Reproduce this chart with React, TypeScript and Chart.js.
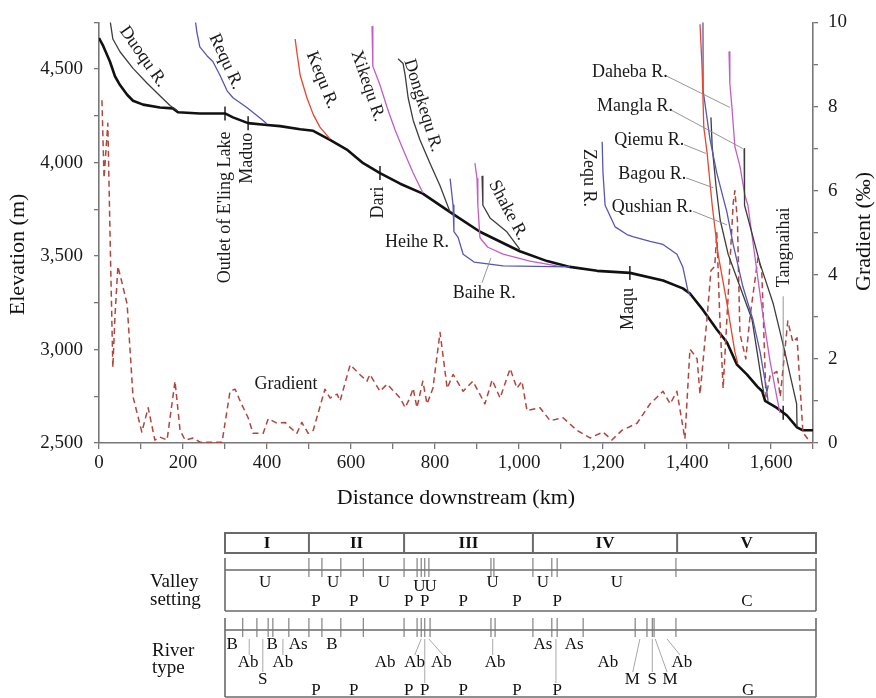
import React, { useEffect, useRef } from 'react';
import { Chart, registerables } from 'chart.js';

Chart.register(...registerables);

const SERIF = "'Liberation Serif', 'Times New Roman', serif";

// ---------------- Data (distance km, elevation m) ----------------
const mainProfile: [number, number][] = [
  [0, 4666], [10, 4624], [26, 4541], [38, 4462], [50, 4415], [67, 4363], [81, 4331], [105, 4310],
  [145, 4295], [176, 4290], [188, 4269], [240, 4263], [300, 4263], [319, 4242], [355, 4211],
  [400, 4201], [431, 4195], [479, 4178], [510, 4170], [550, 4122], [590, 4070], [629, 3997],
  [669, 3944], [717, 3887], [771, 3834], [836, 3735], [907, 3630], [1002, 3526], [1067, 3473],
  [1121, 3442], [1186, 3421], [1264, 3410], [1343, 3369], [1390, 3327], [1407, 3300], [1438, 3212],
  [1471, 3107], [1495, 3039], [1519, 2919], [1543, 2866], [1567, 2803], [1579, 2777], [1586, 2725],
  [1614, 2688], [1638, 2647], [1662, 2584], [1676, 2568], [1700, 2568],
];

// gradient (km, ‰)
const gradientProfile: [number, number][] = [
  [7, 8.15], [12, 6.3], [21, 7.6], [27, 4.6], [33, 1.8], [38, 3.0], [45, 4.2], [55, 3.8], [67, 3.3],
  [81, 1.1], [102, 0.26], [117, 0.84], [133, 0.07], [145, 0.14], [162, 0.07], [181, 1.47], [193, 0.3],
  [205, 0.07], [224, 0.12], [240, 0.02], [293, 0.02], [312, 1.23], [324, 1.28], [336, 1.0], [355, 0.6],
  [367, 0.23], [391, 0.23], [403, 0.58], [424, 0.47], [443, 0.49], [455, 0.37], [471, 0.23], [483, 0.49],
  [498, 0.23], [510, 0.3], [538, 1.28], [550, 1.07], [567, 1.16], [574, 1.0], [598, 1.86], [621, 1.63],
  [638, 1.47], [645, 1.63], [669, 1.23], [686, 1.4], [717, 1.07], [729, 0.84], [740, 1.07], [748, 1.3],
  [757, 0.84], [771, 1.47], [781, 0.93], [795, 1.3], [812, 2.63], [829, 1.3], [843, 1.63], [867, 1.23],
  [890, 1.47], [919, 0.93], [936, 1.5], [955, 1.07], [979, 1.77], [995, 1.3], [1007, 1.47], [1019, 0.77],
  [1050, 0.84], [1074, 0.53], [1105, 0.6], [1138, 0.3], [1169, 0.12], [1200, 0.26], [1221, 0.07],
  [1245, 0.3], [1281, 0.47], [1312, 0.93], [1343, 1.23], [1360, 0.93], [1376, 1.23], [1395, 0.1],
  [1407, 2.23], [1417, 2.1], [1424, 2.0], [1431, 1.16], [1448, 3.0], [1457, 4.1], [1466, 4.2],
  [1471, 5.0], [1478, 3.0], [1486, 1.3], [1498, 3.5], [1510, 5.7], [1514, 6.0], [1520, 5.3],
  [1526, 2.6], [1540, 2.0], [1550, 3.0], [1569, 4.4], [1578, 4.1], [1588, 1.1], [1598, 1.6],
  [1614, 1.7], [1622, 1.1], [1640, 2.9], [1652, 2.4], [1662, 2.5], [1676, 0.25], [1695, 0],
];

const duoqu: [number, number][] = [[26, 4766], [33, 4661], [50, 4593], [81, 4504], [114, 4426], [145, 4358], [169, 4305], [186, 4279]];
const requ: [number, number][] = [[229, 4766], [233, 4698], [240, 4619], [257, 4572], [271, 4541], [288, 4467], [305, 4384], [319, 4347], [352, 4295], [390, 4227], [400, 4206]];
const kequ: [number, number][] = [[467, 4661], [471, 4593], [479, 4467], [495, 4347], [510, 4258], [526, 4190], [550, 4127]];
const xikequ: [number, number][] = [[650, 4729], [652, 4515], [669, 4415], [686, 4295], [705, 4174], [724, 4070], [748, 3944], [771, 3839]];
const dongkequ: [number, number][] = [[712, 4556], [724, 4530], [729, 4467], [736, 4347], [748, 4227], [764, 4122], [788, 3997], [812, 3876], [836, 3735]];
const heihe: [number, number][] = [[836, 3914], [843, 3772], [845, 3631], [855, 3600], [867, 3510], [893, 3468], [962, 3447], [1121, 3442]];
const baihe: [number, number][] = [[895, 3997], [900, 3914], [902, 3772], [907, 3599], [914, 3578], [926, 3547], [962, 3510], [1026, 3473], [1090, 3447], [1105, 3444]];
const shake: [number, number][] = [[912, 3928], [914, 3772], [931, 3704], [971, 3630], [1002, 3536]];
const zequ: [number, number][] = [[1198, 4112], [1200, 3944], [1205, 3772], [1229, 3656], [1257, 3615], [1271, 3604], [1312, 3578], [1343, 3562], [1376, 3510], [1390, 3442], [1402, 3316], [1407, 3290]];
const qiemu: [number, number][] = [[1431, 4740], [1436, 4504], [1440, 4190], [1448, 4049], [1460, 3772], [1474, 3510], [1495, 3248], [1514, 2987], [1521, 2924]];
const qushian: [number, number][] = [[1438, 4766], [1438.5, 4384], [1455, 4122], [1471, 3944], [1495, 3735], [1510, 3562], [1533, 3337], [1557, 3159], [1574, 2987], [1590, 2777], [1593, 2725]];
const bagou: [number, number][] = [[1457, 4242], [1460, 4085], [1469, 3876], [1479, 3693], [1498, 3510], [1526, 3337], [1555, 3159], [1579, 2814], [1583, 2767]];
const mangla: [number, number][] = [[1536, 4075], [1537, 3772], [1574, 3458], [1605, 3248], [1633, 2987], [1661, 2709], [1662, 2584]];
const daheba: [number, number][] = [[1500, 4593], [1502, 4426], [1507, 4295], [1514, 4085], [1526, 3981], [1538, 3824], [1545, 3772], [1579, 3212], [1598, 2934], [1617, 2709], [1621, 2662]];

const stationNames = ["Outlet of E'ling Lake", 'Maduo', 'Dari', 'Maqu', 'Tangnaihai'];
const stationKm = [300, 355, 669, 1264, 1629];

// Schematic table (positions in table units 0-100 along the strip)
const zoneNames = ['I', 'II', 'III', 'IV', 'V'];
const zoneBounds = [0, 14.2, 30.3, 52.1, 76.5, 100];
const valleyTicks = [14.2, 16.4, 19.6, 23.4, 30.3, 32.5, 33.2, 33.8, 34.5, 45.0, 45.5, 52.1, 55.3, 56.2, 76.3];
const valleyLetters: [string, number, number][] = [
  ['U', 6.8, 0], ['U', 18.3, 0], ['U', 26.9, 0], ['U', 32.9, 0.2], ['U', 34.8, 0.2], ['U', 45.3, 0], ['U', 53.8, 0], ['U', 66.3, 0],
  ['P', 15.4, 1], ['P', 21.8, 1], ['P', 31.1, 1], ['P', 33.8, 1], ['P', 40.3, 1], ['P', 49.4, 1], ['P', 56.2, 1], ['C', 88.3, 1],
];
const riverTicks = [3.0, 5.4, 7.3, 8.1, 10.8, 14.2, 16.4, 19.6, 23.4, 30.3, 32.5, 33.2, 33.8, 34.7, 45.0, 45.7, 52.1, 55.3, 56.2, 60.6, 69.4, 71.4, 72.3, 72.6, 76.3];
const riverLetters: [string, number, number][] = [
  ['B', 1.2, 0], ['B', 8.0, 0], ['As', 12.4, 0], ['B', 18.1, 0], ['As', 53.8, 0], ['As', 59.1, 0],
  ['Ab', 3.9, 1], ['Ab', 9.8, 1], ['Ab', 27.1, 1], ['Ab', 32.1, 1], ['Ab', 36.6, 1], ['Ab', 45.7, 1], ['Ab', 64.8, 1], ['Ab', 77.3, 1],
  ['S', 6.4, 2], ['M', 68.9, 2], ['S', 72.3, 2], ['M', 75.3, 2],
  ['P', 15.4, 3], ['P', 21.8, 3], ['P', 31.1, 3], ['P', 33.8, 3], ['P', 40.3, 3], ['P', 49.4, 3], ['P', 56.2, 3], ['G', 88.5, 3],
];
// [from unit, to unit, target row]
const riverLeaders: [number, number, number][] = [
  [4.1, 4.1, 1], [6.4, 6.4, 2], [9.8, 9.8, 1], [33.2, 32.1, 1], [33.8, 33.8, 3], [34.5, 36.9, 1], [45.3, 45.3, 1],
  [56.0, 56.0, 3], [70.2, 69.0, 2], [72.3, 72.3, 2], [72.8, 74.8, 2], [74.8, 77.0, 1],
];

// ---------------- Annotation layout ----------------
const GRAY = '#3d3d3d';
const BLUE = '#5656b4';
const RED = '#e8452c';
const MAGENTA = '#c45cc6';

const tributaries = [
  { pts: duoqu, color: GRAY }, { pts: requ, color: BLUE }, { pts: kequ, color: RED },
  { pts: xikequ, color: MAGENTA }, { pts: dongkequ, color: GRAY }, { pts: heihe, color: BLUE },
  { pts: baihe, color: MAGENTA }, { pts: shake, color: GRAY }, { pts: zequ, color: BLUE },
  { pts: qiemu, color: RED }, { pts: qushian, color: BLUE }, { pts: bagou, color: GRAY },
  { pts: mangla, color: GRAY }, { pts: daheba, color: MAGENTA },
];

const labels: { t: string; km: number; m: number; rot: number }[] = [
  { t: 'Duoqu R.', km: 105, m: 4567, rot: 55 },
  { t: 'Requ R.', km: 302, m: 4541, rot: 65 },
  { t: 'Kequ R.', km: 531, m: 4441, rot: 68 },
  { t: 'Xikequ R.', km: 640, m: 4410, rot: 71 },
  { t: 'Dongkequ R.', km: 771, m: 4305, rot: 73 },
  { t: 'Shake R.', km: 974, m: 3745, rot: 62 },
  { t: 'Zequ R.', km: 1167, m: 3918, rot: 90 },
  { t: 'Heihe R.', km: 757, m: 3573, rot: 0 },
  { t: 'Baihe R.', km: 917, m: 3301, rot: 0 },
  { t: 'Gradient', km: 445, m: 2814, rot: 0 },
  { t: 'Daheba R.', km: 1264, m: 4483, rot: 0 },
  { t: 'Mangla R.', km: 1276, m: 4300, rot: 0 },
  { t: 'Qiemu R.', km: 1310, m: 4117, rot: 0 },
  { t: 'Bagou R.', km: 1317, m: 3939, rot: 0 },
  { t: 'Qushian R.', km: 1317, m: 3761, rot: 0 },
  { t: "Outlet of E'ling Lake", km: 300, m: 3761, rot: -90 },
  { t: 'Maduo', km: 352, m: 4023, rot: -90 },
  { t: 'Dari', km: 664, m: 3787, rot: -90 },
  { t: 'Maqu', km: 1260, m: 3217, rot: -90 },
  { t: 'Tangnaihai', km: 1631, m: 3547, rot: -90 },
];

const leaders: [number, number, number, number][] = [
  [1348, 4467, 1502, 4295],
  [1364, 4279, 1533, 4075],
  [1393, 4096, 1445, 4049],
  [1398, 3918, 1462, 3866],
  [1414, 3740, 1495, 3667],
  [912, 3358, 933, 3489],
  [1629, 3285, 1629, 2725],
];

function interp(pts: [number, number][], x: number) {
  for (let i = 1; i < pts.length; i++) {
    if (x <= pts[i][0]) {
      const [x0, y0] = pts[i - 1];
      const [x1, y1] = pts[i];
      return y0 + ((y1 - y0) * (x - x0)) / (x1 - x0);
    }
  }
  return pts[pts.length - 1][1];
}

function text(ctx: CanvasRenderingContext2D, t: string, x: number, y: number, rotDeg: number, font: string, align: CanvasTextAlign = 'center') {
  ctx.save();
  ctx.translate(x, y);
  ctx.rotate((rotDeg * Math.PI) / 180);
  ctx.font = font;
  ctx.textAlign = align;
  ctx.textBaseline = 'middle';
  ctx.fillText(t, 0, 0);
  ctx.restore();
}

function seg(ctx: CanvasRenderingContext2D, x0: number, y0: number, x1: number, y1: number) {
  ctx.beginPath();
  ctx.moveTo(x0, y0);
  ctx.lineTo(x1, y1);
  ctx.stroke();
}

const overlayPlugin = {
  id: 'overlay',
  afterDatasetsDraw(chart: any) {
    const { ctx } = chart;
    const xs = chart.scales.x;
    const ys = chart.scales.y;
    const px = (v: number) => xs.getPixelForValue(v);
    const py = (v: number) => ys.getPixelForValue(v);
    ctx.save();
    // leaders
    ctx.strokeStyle = '#8a8a8a';
    ctx.lineWidth = 0.9;
    leaders.forEach(([a, b, c, d]) => seg(ctx, px(a), py(b), px(c), py(d)));
    // station markers
    ctx.strokeStyle = '#111';
    ctx.lineWidth = 1.4;
    stationKm.forEach((km) => {
      const X = px(km);
      const Y = py(interp(mainProfile, km));
      seg(ctx, X, Y - 7, X, Y + 7);
    });
    // labels
    ctx.fillStyle = '#1a1a1a';
    labels.forEach((l) => text(ctx, l.t, px(l.km), py(l.m), l.rot, `18px ${SERIF}`));
    ctx.restore();
  },
  afterDraw(chart: any) {
    const { ctx } = chart;
    const area = chart.chartArea;
    ctx.save();
    ctx.fillStyle = '#111';
    // axis titles
    text(ctx, 'Elevation (m)', 18, area.top + 232, -90, `22px ${SERIF}`);
    text(ctx, 'Gradient (‰)', chart.width - 12, area.top + 209, -90, `22px ${SERIF}`);

    // ---- schematic table ----
    const L = 225, R = 816;
    const tx = (u: number) => L + ((R - L) * u) / 100;
    const hTop = 533, hBot = 553;
    const vTop = 558, vLine = 570, vBot = 611;
    const rTop = 618, rLine = 630, rBot = 697;
    ctx.strokeStyle = '#6a6a6a';
    ctx.lineWidth = 2;
    ctx.strokeRect(L, hTop, R - L, hBot - hTop);
    zoneBounds.slice(1, -1).forEach((u) => seg(ctx, tx(u), hTop, tx(u), hBot));
    ctx.fillStyle = '#111';
    zoneNames.forEach((z, i) => {
      text(ctx, z, (tx(zoneBounds[i]) + tx(zoneBounds[i + 1])) / 2, (hTop + hBot) / 2 + 1, 0, `bold 17px ${SERIF}`);
    });

    // valley setting
    ctx.lineWidth = 1.6;
    seg(ctx, L, vLine, R, vLine);
    seg(ctx, L, vBot, R, vBot);
    seg(ctx, L, vTop, L, vBot);
    seg(ctx, R, vTop, R, vBot);
    ctx.lineWidth = 1.1;
    ctx.strokeStyle = '#777';
    valleyTicks.forEach((u) => seg(ctx, tx(u), vTop, tx(u), vLine + 7));
    const vRows = [583, 602];
    valleyLetters.forEach(([t, u, r]) => {
      const y = vRows[0] + (vRows[1] - vRows[0]) * r;
      text(ctx, t, tx(u), y, 0, `17px ${SERIF}`);
    });

    // river type
    ctx.strokeStyle = '#6a6a6a';
    ctx.lineWidth = 1.6;
    seg(ctx, L, rLine, R, rLine);
    seg(ctx, L, rBot, R, rBot);
    seg(ctx, L, rTop, L, rBot);
    seg(ctx, R, rTop, R, rBot);
    ctx.lineWidth = 1.1;
    ctx.strokeStyle = '#777';
    riverTicks.forEach((u) => seg(ctx, tx(u), rTop, tx(u), rLine + 7));
    const rRows = [645, 663, 680, 691];
    ctx.strokeStyle = '#a8a8a8';
    ctx.lineWidth = 1;
    riverLeaders.forEach(([a, b, r]) => seg(ctx, tx(a), rLine + 9, tx(b), rRows[r] - 8));
    riverLetters.forEach(([t, u, r]) => text(ctx, t, tx(u), rRows[r], 0, `17px ${SERIF}`));

    // row titles
    text(ctx, 'Valley', 150, 582, 0, `19px ${SERIF}`, 'left');
    text(ctx, 'setting', 150, 600, 0, `19px ${SERIF}`, 'left');
    text(ctx, 'River', 152, 651, 0, `19px ${SERIF}`, 'left');
    text(ctx, 'type', 152, 668, 0, `19px ${SERIF}`, 'left');
    ctx.restore();
  },
};

export default function App() {
  const ref = useRef<HTMLCanvasElement>(null);
  useEffect(() => {
    const canvas = ref.current;
    if (!canvas) return;
    const toXY = (pts: [number, number][]) => pts.map(([x, y]) => ({ x, y }));
    const datasets: any[] = [
      ...tributaries.map((t) => ({ data: toXY(t.pts), borderColor: t.color, borderWidth: 1.3, yAxisID: 'y' })),
      { data: toXY(gradientProfile), borderColor: '#b0463c', borderWidth: 1.5, borderDash: [6, 4], yAxisID: 'y1' },
      { data: toXY(mainProfile), borderColor: '#111', borderWidth: 2.6, yAxisID: 'y' },
    ];
    const axisGrid = { drawOnChartArea: false, tickLength: 5, color: '#777', lineWidth: 1.3 };
    const axisBorder = { color: '#777', width: 1.6 };
    const tickFont = { family: SERIF, size: 19 };
    const chart = new Chart(canvas, {
      type: 'line',
      data: { datasets },
      options: {
        animation: false,
        responsive: false,
        devicePixelRatio: 1,
        events: [],
        elements: { point: { radius: 0 }, line: { tension: 0, fill: false, borderJoinStyle: 'round' } },
        layout: { padding: { top: 13, left: 0, right: 0, bottom: 183 } },
        plugins: { legend: { display: false }, tooltip: { enabled: false } },
        scales: {
          x: {
            type: 'linear', min: 0, max: 1700,
            ticks: {
              stepSize: 100, autoSkip: false, maxRotation: 0, padding: 3, color: '#1a1a1a', font: tickFont,
              callback: (v: any) => (Number(v) % 200 === 0 ? Number(v).toLocaleString('en-US') : ''),
            },
            grid: { ...axisGrid, tickLength: 6 },
            border: axisBorder,
            title: { display: true, text: 'Distance downstream (km)', color: '#111', font: { family: SERIF, size: 22 }, padding: { top: 0, bottom: 4 } },
            afterFit: (s: any) => { s.height = 72; },
          },
          y: {
            type: 'linear', position: 'left', min: 2500, max: 4750,
            ticks: {
              stepSize: 250, padding: 11, color: '#1a1a1a', font: tickFont,
              callback: (v: any) => (Number(v) % 500 === 0 ? Number(v).toLocaleString('en-US') : ''),
            },
            grid: axisGrid,
            border: axisBorder,
            afterFit: (s: any) => { s.width = 99; },
          },
          y1: {
            type: 'linear', position: 'right', min: 0, max: 10,
            ticks: {
              stepSize: 0.5, padding: 10, color: '#1a1a1a', font: tickFont,
              callback: (v: any) => (Number(v) % 2 === 0 ? String(v) : ''),
            },
            grid: axisGrid,
            border: axisBorder,
            afterFit: (s: any) => { s.width = 63; },
          },
        },
      } as any,
      plugins: [overlayPlugin],
    });
    return () => chart.destroy();
  }, []);
  return (
    <div style={{ position: 'absolute', left: 0, top: 0, width: 876, height: 698, background: '#fff' }}>
      <canvas ref={ref} width={876} height={698} style={{ display: 'block', width: 876, height: 698 }} />
    </div>
  );
}
